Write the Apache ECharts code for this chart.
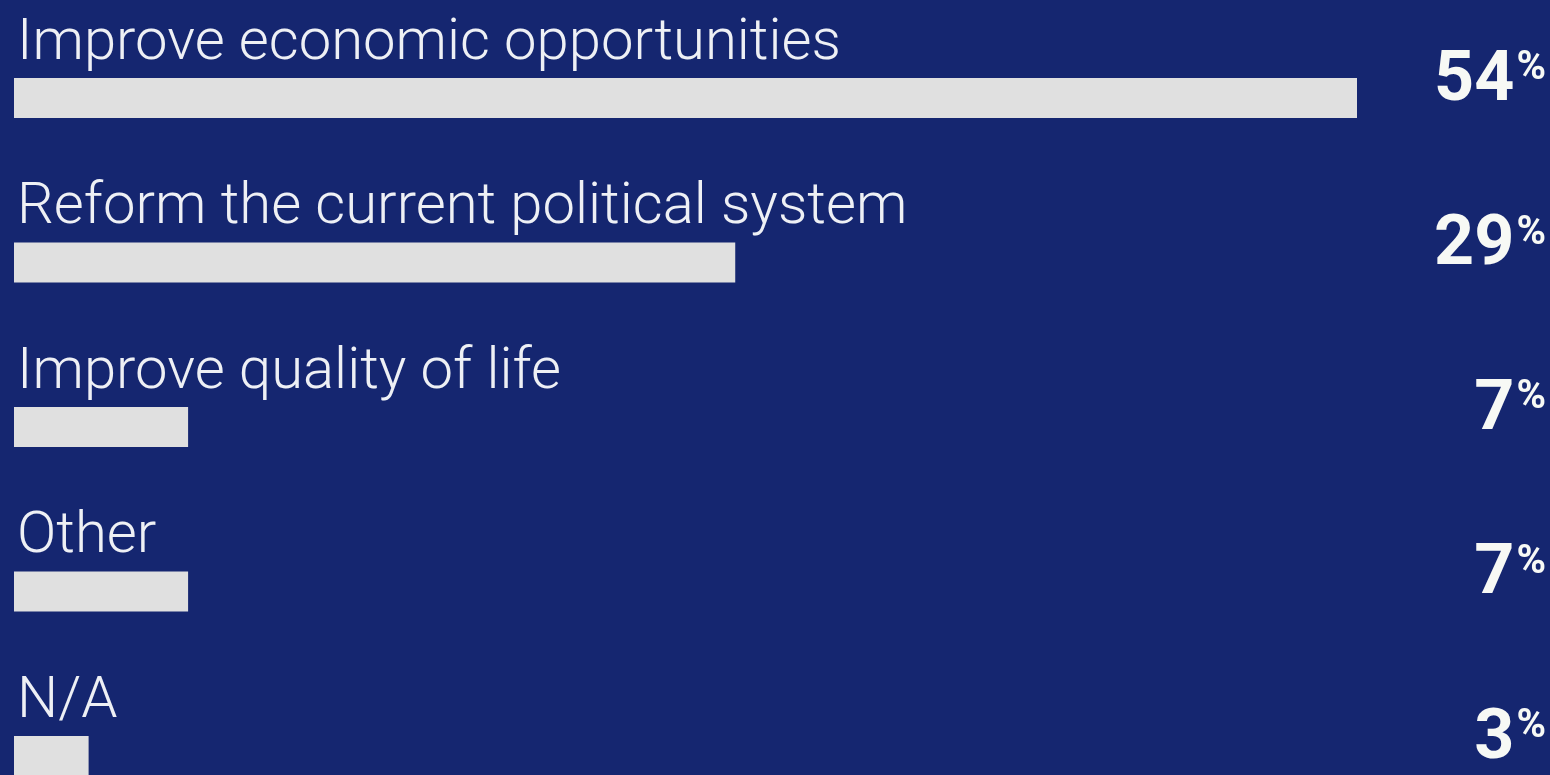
<!DOCTYPE html>
<html>
<head>
<meta charset="utf-8">
<script src="https://cdn.jsdelivr.net/npm/echarts@6/dist/echarts.min.js"></script>
<style>
html,body{margin:0;padding:0;background:#152670;}
#chart{width:1550px;height:775px;}
</style>
</head>
<body>
<div id="chart"></div>
<script>
const categories = [
  'Improve economic opportunities',
  'Reform the current political system',
  'Improve quality of life',
  'Other',
  'N/A'
];
const values = [54, 29, 7, 7, 3];

const chart = echarts.init(document.getElementById('chart'));
chart.setOption({
  backgroundColor: '#152670',
  animation: false,
  grid: { left: 14, right: 193, top: 98, bottom: 19, containLabel: false, outerBoundsMode: 'none' },
  xAxis: { type: 'value', min: 0, max: 'dataMax', show: false },
  yAxis: [
    {
      type: 'category', data: categories, inverse: true, show: false, boundaryGap: false
    },
    {
      type: 'category', data: categories, inverse: true, position: 'right', boundaryGap: false,
      axisLine: { show: false }, axisTick: { show: false }, splitLine: { show: false },
      axisLabel: {
        align: 'right', margin: 189, verticalAlign: 'middle',
        padding: [0, 0, 32, 0],
        formatter: function (v, i) { return '{n|' + values[i] + '}{p|%}'; },
        rich: {
          n: { fontFamily: 'Roboto', fontWeight: 'bold', fontSize: 70, color: '#f7f9f5', lineHeight: 70 },
          p: { fontFamily: 'Roboto', fontWeight: 'bold', fontSize: 40, color: '#f7f9f5', verticalAlign: 'top', padding: [2, 0, 0, 2] }
        }
      }
    }
  ],
  series: [{
    type: 'bar',
    data: values,
    barWidth: 40,
    itemStyle: { color: '#e0e0e0' },
    label: {
      show: true,
      position: [3, -5],
      align: 'left',
      verticalAlign: 'bottom',
      formatter: function (p) { return categories[p.dataIndex]; },
      fontFamily: 'Roboto',
      fontWeight: 300,
      fontSize: 58,
      lineHeight: 58,
      color: '#eef0f5'
    }
  }]
});
</script>
</body>
</html>
